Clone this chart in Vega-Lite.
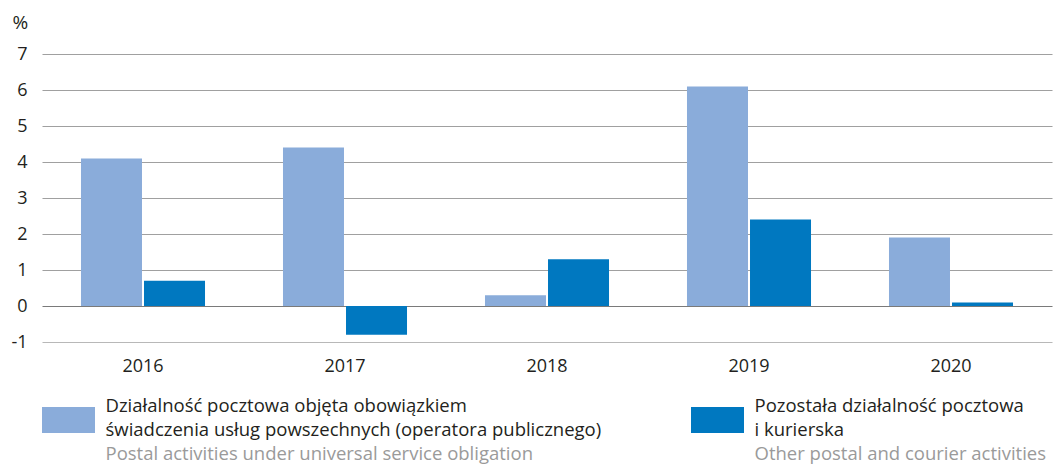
{
  "$schema": "https://vega.github.io/schema/vega-lite/v6.json",
  "width": 1010,
  "height": 288,
  "autosize": {"type": "none"},
  "padding": {"left": 42, "top": 54, "right": 3, "bottom": 122},
  "background": "white",
  "config": {"font": "Open Sans", "view": {"stroke": null}},
  "datasets": {
    "bars": [
      {"year": "2016", "series": "Działalność pocztowa objęta obowiązkiem świadczenia usług powszechnych (operatora publicznego)", "value": 4.1},
      {"year": "2016", "series": "Pozostała działalność pocztowa i kurierska", "value": 0.7},
      {"year": "2017", "series": "Działalność pocztowa objęta obowiązkiem świadczenia usług powszechnych (operatora publicznego)", "value": 4.4},
      {"year": "2017", "series": "Pozostała działalność pocztowa i kurierska", "value": -0.8},
      {"year": "2018", "series": "Działalność pocztowa objęta obowiązkiem świadczenia usług powszechnych (operatora publicznego)", "value": 0.3},
      {"year": "2018", "series": "Pozostała działalność pocztowa i kurierska", "value": 1.3},
      {"year": "2019", "series": "Działalność pocztowa objęta obowiązkiem świadczenia usług powszechnych (operatora publicznego)", "value": 6.1},
      {"year": "2019", "series": "Pozostała działalność pocztowa i kurierska", "value": 2.4},
      {"year": "2020", "series": "Działalność pocztowa objęta obowiązkiem świadczenia usług powszechnych (operatora publicznego)", "value": 1.9},
      {"year": "2020", "series": "Pozostała działalność pocztowa i kurierska", "value": 0.1}
    ],
    "legend": [
      {"series": "Działalność pocztowa objęta obowiązkiem świadczenia usług powszechnych (operatora publicznego)", "line": 1, "kind": "pl", "text": "Działalność pocztowa objęta obowiązkiem"},
      {"series": "Działalność pocztowa objęta obowiązkiem świadczenia usług powszechnych (operatora publicznego)", "line": 2, "kind": "pl", "text": "świadczenia usług powszechnych (operatora publicznego)"},
      {"series": "Działalność pocztowa objęta obowiązkiem świadczenia usług powszechnych (operatora publicznego)", "line": 3, "kind": "en", "text": "Postal activities under universal service obligation"},
      {"series": "Pozostała działalność pocztowa i kurierska", "line": 1, "kind": "pl", "text": "Pozostała działalność pocztowa"},
      {"series": "Pozostała działalność pocztowa i kurierska", "line": 2, "kind": "pl", "text": "i kurierska"},
      {"series": "Pozostała działalność pocztowa i kurierska", "line": 3, "kind": "en", "text": "Other postal and courier activities"}
    ]
  },
  "layer": [
    {
      "data": {"name": "bars"},
      "mark": {"type": "bar"},
      "encoding": {
        "x": {
          "field": "year", "type": "nominal", "sort": ["2016", "2017", "2018", "2019", "2020"],
          "scale": {"paddingInner": 0.386, "paddingOuter": 0.193},
          "axis": {"labelAngle": 0, "ticks": false, "domain": false, "grid": false, "title": null, "labelPadding": 15, "labelFontSize": 18, "labelColor": "#231f20"}
        },
        "xOffset": {
          "field": "series", "type": "nominal",
          "sort": ["Działalność pocztowa objęta obowiązkiem świadczenia usług powszechnych (operatora publicznego)", "Pozostała działalność pocztowa i kurierska"],
          "scale": {"paddingInner": 0.032, "paddingOuter": 0}
        },
        "y": {
          "field": "value", "type": "quantitative",
          "scale": {"domain": [-1, 7], "nice": false, "zero": false},
          "axis": {
            "values": [-1, 0, 1, 2, 3, 4, 5, 6, 7], "labelExpr": "'' + datum.value",
            "grid": true,
            "gridColor": {"condition": [{"test": "datum.value === 0", "value": "#7a7a7a"}, {"test": "datum.value === -1", "value": "#b8b8b8"}], "value": "#a0a0a0"},
            "gridWidth": 1.2,
            "ticks": false, "domain": false, "labelPadding": 15, "labelFontSize": 18, "labelColor": "#231f20",
            "title": "%", "titleAngle": 0, "titleAlign": "left", "titleBaseline": "alphabetic", "titleX": -30, "titleY": -26,
            "titleFontSize": 19, "titleFontWeight": "normal", "titleColor": "#231f20"
          }
        },
        "color": {
          "field": "series", "type": "nominal",
          "scale": {"domain": ["Działalność pocztowa objęta obowiązkiem świadczenia usług powszechnych (operatora publicznego)", "Pozostała działalność pocztowa i kurierska"], "range": ["#8aacda", "#0078c0"]},
          "legend": null
        }
      }
    },
    {
      "data": {"name": "legend"},
      "encoding": {
        "x": {"field": "series", "type": "nominal", "sort": ["Działalność pocztowa objęta obowiązkiem świadczenia usług powszechnych (operatora publicznego)", "Pozostała działalność pocztowa i kurierska"], "scale": {"type": "point", "padding": 0, "range": [26.5, 675.5]}, "axis": null},
        "y": {"field": "line", "type": "ordinal", "scale": {"type": "point", "padding": 0, "range": [358, 406]}, "axis": null}
      },
      "layer": [
        {
          "transform": [{"filter": "datum.line === 1"}],
          "mark": {"type": "point", "shape": "M-1,-0.49H1V0.49H-1Z", "size": 2809, "filled": true, "opacity": 1, "yOffset": 8},
          "encoding": {
            "color": {"field": "series", "type": "nominal", "legend": null}
          }
        },
        {
          "mark": {"type": "text", "align": "left", "baseline": "alphabetic", "dx": 37, "fontSize": 18.5},
          "encoding": {
            "text": {"field": "text"},
            "color": {"condition": {"test": "datum.kind === 'en'", "value": "#9a9a9a"}, "value": "#231f20"}
          }
        }
      ]
    }
  ],
  "resolve": {"scale": {"x": "independent", "y": "independent"}}
}
